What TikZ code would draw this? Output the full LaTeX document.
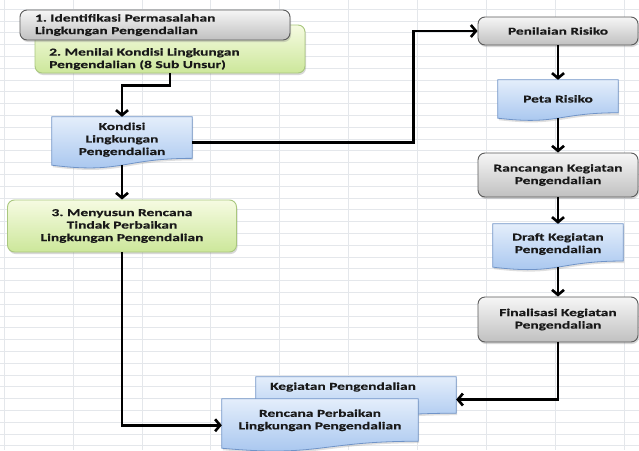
\documentclass[tikz,border=0pt]{standalone}
\usepackage{fontspec}
\setmainfont{Carlito}[FakeStretch=1.47, FakeBold=0.4]
\usetikzlibrary{arrows.meta,calc,shadows}
\pgfdeclarelayer{bg}
\pgfsetlayers{bg,main}
\frenchspacing

\definecolor{gridc}{HTML}{E4E7EB}
\definecolor{graytop}{HTML}{F6F6F6}
\definecolor{graybot}{HTML}{C0C0C0}
\definecolor{grayline}{HTML}{5A5A5A}
\definecolor{greentop}{HTML}{F6FBE2}
\definecolor{greenbot}{HTML}{CCE79A}
\definecolor{greenline}{HTML}{A9C77E}
\definecolor{bluetop}{HTML}{E4EEFB}
\definecolor{bluebot}{HTML}{A3C3EE}
\definecolor{blueline}{HTML}{7094C8}

\tikzset{
  gridline/.style={draw=gridc, line width=0.6pt},
  lbl/.style={font=\bfseries\fontsize{10.5}{12.5}\selectfont, align=center, text=black!90, inner sep=0pt},
  box/.style={lbl, rounded corners=7pt, line width=0.9pt,
    drop shadow={opacity=0.3, shadow xshift=1pt, shadow yshift=-2pt}},
  graybox/.style={box, draw=grayline, top color=graytop, bottom color=graybot},
  greenbox/.style={box, draw=greenline, top color=greentop, bottom color=greenbot},
  docarea/.style={inner sep=0pt, draw=none},
  docfill/.style={draw=blueline, line width=0.8pt, top color=bluetop, bottom color=bluebot,
    drop shadow={opacity=0.25, shadow xshift=1pt, shadow yshift=-2pt}},
  flow/.style={line width=2.6pt, -{Straight Barb[length=5pt,width=12pt]}},
}

% flowchart "document" outline with a wavy lower edge, built on a node's box
\newcommand{\flowdoc}[1]{%
  \path[docfill] (#1.north west) -- (#1.north east)
    -- ($(#1.north east)!0.802!(#1.south east)$)
    .. controls ($(#1.north)!0.802!(#1.south)$) and ($(#1.north)!1.107!(#1.south)$)
    .. ($(#1.north west)!0.934!(#1.south west)$) -- cycle;}

\begin{document}
\begin{tikzpicture}[x=1pt,y=-1pt]
\useasboundingbox (0,0) rectangle (639,450);

% left column
\node[greenbox, minimum width=270pt, minimum height=48pt] (b2) at (170,49) {};
\node[lbl, anchor=west, align=left] (b2txt) at (49,59) {2. Menilai Kondisi Lingkungan\\Pengendalian (8 Sub Unsur)};
\node[graybox, minimum width=270pt, minimum height=30pt, text width=240pt, align=left] (b1) at (155,25)
  {1. Identifikasi Permasalahan\\Lingkungan Pengendalian};
\node[docarea, minimum width=140pt, minimum height=51.4pt,
  label={[lbl, yshift=3pt]center:Kondisi\\Lingkungan\\Pengendalian}] (kondisi) at (122,142.7) {};
\node[greenbox, minimum width=229pt, minimum height=52pt] (b3) at (122,226)
  {3. Menyusun Rencana\\Tindak Perbaikan\\Lingkungan Pengendalian};

% right column
\node[graybox, minimum width=160pt, minimum height=28pt] (pen) at (558,31) {Penilaian Risiko};
\node[docarea, minimum width=120pt, minimum height=40.7pt,
  label={[lbl, yshift=1.5pt]center:Peta Risiko}] (peta) at (558,100.35) {};
\node[graybox, minimum width=160pt, minimum height=44pt] (ranc) at (558,175)
  {Rancangan Kegiatan\\Pengendalian};
\node[docarea, minimum width=130pt, minimum height=46pt,
  label={[lbl, yshift=3pt]center:Draft Kegiatan\\Pengendalian}] (draft) at (558,247) {};
\node[graybox, minimum width=160pt, minimum height=45pt] (fin) at (558,319.5)
  {Finalisasi Kegiatan\\Pengendalian};

% bottom pair of documents
\node[docarea, minimum width=200pt, minimum height=45pt,
  label={[lbl, xshift=-13pt, yshift=12.5pt]center:Kegiatan Pengendalian}] (keg) at (356,399.5) {};
\node[docarea, minimum width=196pt, minimum height=52.5pt,
  label={[lbl, yshift=5pt]center:Rencana Perbaikan\\Lingkungan Pengendalian}] (renc) at (320,425.25) {};

\coordinate (kondisi-b) at ($(kondisi.north)!0.933!(kondisi.south)$);
\coordinate (peta-b) at ($(peta.north)!0.933!(peta.south)$);
\coordinate (draft-b) at ($(draft.north)!0.933!(draft.south)$);

\begin{pgfonlayer}{bg}
  \fill[white] (0,0) rectangle (639,450);
  \foreach \k in {0,...,37} \draw[gridline] (0,{9+11.8*\k}) -- (639,{9+11.8*\k});
  \foreach \k in {0,...,9} \draw[gridline] ({4+68.9*\k},0) -- ({4+68.9*\k},450);
  \flowdoc{kondisi}
  \flowdoc{peta}
  \flowdoc{draft}
  \flowdoc{keg}
  \flowdoc{renc}
\end{pgfonlayer}

% connectors
\draw[flow] (b2.south) -- ++(0,12) -| (kondisi.north);
\draw[flow] (kondisi-b) -- (b3.north);
\draw[flow] (kondisi.east) -- ++(221,0) |- (pen.west);
\draw[flow] (pen.south) -- (peta.north);
\draw[flow] (peta-b) -- (ranc.north);
\draw[flow] (ranc.south) -- (draft.north);
\draw[flow] (draft-b) -- (fin.north);
\draw[flow] (fin.south) |- (keg.east);
\draw[flow] (b3.south) |- (renc.west);
\end{tikzpicture}
\end{document}
